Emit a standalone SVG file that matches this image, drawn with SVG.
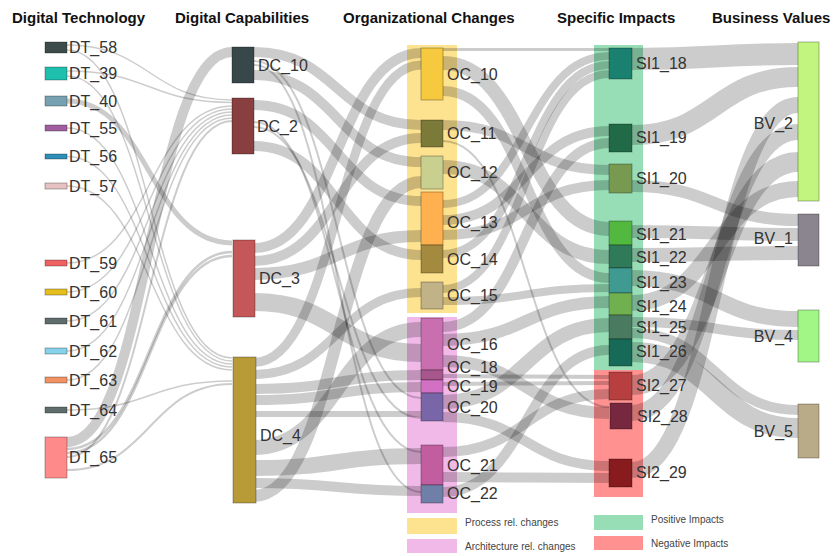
<svg xmlns="http://www.w3.org/2000/svg" width="835" height="556" viewBox="0 0 835 556">
<style>
text{font-family:"Liberation Sans",Arial,sans-serif;fill:#333}
.h{font-weight:bold;font-size:15px;fill:#111}
.l{font-size:16px}
.g{font-size:10px;fill:#444}
.lk path{fill:none;stroke:#000;stroke-opacity:0.2}
.n rect{stroke:#000;stroke-opacity:0.3;stroke-width:1}
</style>
<rect width="835" height="556" fill="#fff"/>
<g id="headers">
<text class="h" x="12" y="23">Digital Technology</text>
<text class="h" x="175" y="23">Digital Capabilities</text>
<text class="h" x="343" y="23">Organizational Changes</text>
<text class="h" x="557" y="23">Specific Impacts</text>
<text class="h" x="712" y="23">Business Values</text>
</g>
<g id="groups">
<rect x="407" y="45" width="50" height="268" fill="#fde290"/>
<rect x="407" y="317" width="50" height="196" fill="#f0b9e8"/>
<rect x="594" y="45" width="49" height="325" fill="#97deb6"/>
<rect x="594" y="370" width="49" height="127" fill="#ff9191"/>
</g>
<g id="links" class="lk">
<path d="M67 45C149.5 45 149.5 100 232 100" stroke-width="1.5"/>
<path d="M67 50C149.5 50 149.5 358 232 358" stroke-width="1.5"/>
<path d="M67 71C149.5 71 149.5 102.5 232 102.5" stroke-width="1.5"/>
<path d="M67 76C149.5 76 149.5 361 232 361" stroke-width="1.5"/>
<path d="M67 101C149.5 101 149.5 243 232 243" stroke-width="5"/>
<path d="M67 128C149.5 128 149.5 364 232 364" stroke-width="1.5"/>
<path d="M67 156.5C149.5 156.5 149.5 367 232 367" stroke-width="1.5"/>
<path d="M67 186C149.5 186 149.5 370 232 370" stroke-width="1.5"/>
<path d="M67 263C149.5 263 149.5 106 232 106" stroke-width="1.5"/>
<path d="M67 292C149.5 292 149.5 109 232 109" stroke-width="1.5"/>
<path d="M67 321C149.5 321 149.5 112 232 112" stroke-width="1.5"/>
<path d="M67 351C149.5 351 149.5 115 232 115" stroke-width="1.5"/>
<path d="M67 380C149.5 380 149.5 118 232 118" stroke-width="1.5"/>
<path d="M67 410C149.5 410 149.5 381 232 381" stroke-width="1.5"/>
<path d="M67 442C149.5 442 149.5 52 232 52" stroke-width="10"/>
<path d="M67 449C149.5 449 149.5 252 232 252" stroke-width="2.5"/>
<path d="M67 453C149.5 453 149.5 256 232 256" stroke-width="2.5"/>
<path d="M67 457C149.5 457 149.5 121 232 121" stroke-width="2"/>
<path d="M67 470C149.5 470 149.5 384 232 384" stroke-width="2"/>

<path d="M254 52C337.5 52 337.5 125 421 125" stroke-width="10"/>
<path d="M254 75C337.5 75 337.5 162 421 162" stroke-width="10"/>
<path d="M254 61C337.5 61 337.5 398 421 398" stroke-width="2"/>
<path d="M254 65C337.5 65 337.5 492 421 492" stroke-width="2"/>
<path d="M254 105C337.5 105 337.5 201 421 201" stroke-width="10"/>
<path d="M254 146C337.5 146 337.5 255 421 255" stroke-width="10"/>
<path d="M254 122C337.5 122 337.5 452 421 452" stroke-width="2"/>
<path d="M254 127C337.5 127 337.5 418 421 418" stroke-width="2"/>
<path d="M254 248C337.5 248 337.5 53 421 53" stroke-width="10"/>
<path d="M254 261C337.5 261 337.5 138 421 138" stroke-width="10"/>
<path d="M254 274C337.5 274 337.5 236 421 236" stroke-width="12"/>
<path d="M254 302C337.5 302 337.5 353 421 353" stroke-width="18"/>
<path d="M254 362.5C337.5 362.5 337.5 65 421 65" stroke-width="9"/>
<path d="M254 374.5C337.5 374.5 337.5 292.5 421 292.5" stroke-width="9"/>
<path d="M254 389C337.5 389 337.5 375 421 375" stroke-width="10"/>
<path d="M254 400C337.5 400 337.5 387 421 387" stroke-width="10"/>
<path d="M254 414C337.5 414 337.5 414 421 414" stroke-width="6"/>
<path d="M254 447.5C337.5 447.5 337.5 329.5 421 329.5" stroke-width="15"/>
<path d="M254 468C337.5 468 337.5 456 421 456" stroke-width="16"/>
<path d="M254 483C337.5 483 337.5 491 421 491" stroke-width="10"/>
<path d="M254 496C337.5 496 337.5 182 421 182" stroke-width="12"/>

<path d="M443 49.5C526 49.5 526 49.5 609 49.5" stroke-width="3"/>
<path d="M443 63C526 63 526 229 609 229" stroke-width="14"/>
<path d="M443 91C526 91 526 278 609 278" stroke-width="10"/>
<path d="M443 125C526 125 526 170 609 170" stroke-width="10"/>
<path d="M443 141C526 141 526 407 609 407" stroke-width="2"/>
<path d="M443 167C526 167 526 257 609 257" stroke-width="14"/>
<path d="M443 204C526 204 526 56 609 56" stroke-width="8"/>
<path d="M443 254C526 254 526 65 609 65" stroke-width="8"/>
<path d="M443 289C526 289 526 74 609 74" stroke-width="8"/>
<path d="M443 220C526 220 526 131 609 131" stroke-width="10"/>
<path d="M443 327C526 327 526 143 609 143" stroke-width="10"/>
<path d="M443 235C526 235 526 185 609 185" stroke-width="10"/>
<path d="M443 301C526 301 526 288 609 288" stroke-width="8"/>
<path d="M443 340C526 340 526 302 609 302" stroke-width="12"/>
<path d="M443 402C526 402 526 325 609 325" stroke-width="14"/>
<path d="M443 492C526 492 526 350 609 350" stroke-width="10"/>
<path d="M443 452C526 452 526 394 609 394" stroke-width="10"/>
<path d="M443 376C526 376 526 377 609 377" stroke-width="4"/>
<path d="M443 384C526 384 526 383 609 383" stroke-width="4"/>
<path d="M443 361C526 361 526 413 609 413" stroke-width="12"/>
<path d="M443 417C526 417 526 466 609 466" stroke-width="10"/>
<path d="M443 477C526 477 526 478 609 478" stroke-width="10"/>

<path d="M632 59C715 59 715 54 798 54" stroke-width="22"/>
<path d="M632 135C715 135 715 77 798 77" stroke-width="20"/>
<path d="M632 186C715 186 715 220 798 220" stroke-width="12"/>
<path d="M632 231.5C715 231.5 715 234.5 798 234.5" stroke-width="13"/>
<path d="M632 255C715 255 715 253 798 253" stroke-width="14"/>
<path d="M632 278C715 278 715 319 798 319" stroke-width="16"/>
<path d="M632 303C715 303 715 189 798 189" stroke-width="16"/>
<path d="M632 322C715 322 715 335 798 335" stroke-width="10"/>
<path d="M632 333C715 333 715 410 798 410" stroke-width="10"/>
<path d="M632 352C715 352 715 428 798 428" stroke-width="20"/>
<path d="M632 385C715 385 715 162 798 162" stroke-width="20"/>
<path d="M632 413C715 413 715 132 798 132" stroke-width="16"/>
<path d="M632 470C715 470 715 105 798 105" stroke-width="16"/>
</g>
<g id="nodes" class="n">
<g id="DT_58"><rect x="45" y="42" width="22" height="11" fill="#3e4b4b"/><text class="l" x="69" y="53">DT_58</text></g>
<g id="DT_39"><rect x="45" y="67" width="22" height="13" fill="#1fbfae"/><text class="l" x="69" y="79">DT_39</text></g>
<g id="DT_40"><rect x="45" y="96" width="22" height="10" fill="#77a0b0"/><text class="l" x="69" y="107">DT_40</text></g>
<g id="DT_55"><rect x="45" y="125" width="22" height="6" fill="#a05ea0"/><text class="l" x="69" y="134">DT_55</text></g>
<g id="DT_56"><rect x="45" y="154" width="22" height="5" fill="#2e8fb8"/><text class="l" x="69" y="162">DT_56</text></g>
<g id="DT_57"><rect x="45" y="183" width="22" height="6" fill="#e6c2c2"/><text class="l" x="69" y="192">DT_57</text></g>
<g id="DT_59"><rect x="45" y="260" width="22" height="6" fill="#f06262"/><text class="l" x="69" y="269">DT_59</text></g>
<g id="DT_60"><rect x="45" y="289" width="22" height="6" fill="#e6bf1e"/><text class="l" x="69" y="298">DT_60</text></g>
<g id="DT_61"><rect x="45" y="318" width="22" height="6" fill="#5e6c6c"/><text class="l" x="69" y="327">DT_61</text></g>
<g id="DT_62"><rect x="45" y="348" width="22" height="6" fill="#86d2ea"/><text class="l" x="69" y="357">DT_62</text></g>
<g id="DT_63"><rect x="45" y="377" width="22" height="6" fill="#f29264"/><text class="l" x="69" y="386">DT_63</text></g>
<g id="DT_64"><rect x="45" y="407" width="22" height="6" fill="#5e6c6c"/><text class="l" x="69" y="416">DT_64</text></g>
<g id="DT_65"><rect x="45" y="437" width="22" height="41" fill="#ff8a8a"/><text class="l" x="69" y="463">DT_65</text></g>

<g id="DC_10"><rect x="232" y="47" width="22" height="36" fill="#37474a"/><text class="l" x="258" y="71">DC_10</text></g>
<g id="DC_2"><rect x="232" y="98" width="22" height="56" fill="#893e3f"/><text class="l" x="257" y="132">DC_2</text></g>
<g id="DC_3"><rect x="233" y="240" width="22" height="77" fill="#c45757"/><text class="l" x="259" y="284">DC_3</text></g>
<g id="DC_4"><rect x="233" y="357" width="23" height="146" fill="#b89a37"/><text class="l" x="260" y="441">DC_4</text></g>

<g id="OC_10"><rect x="421" y="48" width="22" height="52" fill="#f6c93e"/><text class="l" x="447" y="80">OC_10</text></g>
<g id="OC_11"><rect x="421" y="120" width="22" height="27" fill="#7b7a38"/><text class="l" x="447" y="139">OC_11</text></g>
<g id="OC_12"><rect x="421" y="156" width="22" height="33" fill="#c9d08f"/><text class="l" x="447" y="178">OC_12</text></g>
<g id="OC_13"><rect x="421" y="192" width="22" height="53" fill="#ffb14f"/><text class="l" x="447" y="228">OC_13</text></g>
<g id="OC_14"><rect x="421" y="245" width="22" height="28" fill="#a48a3e"/><text class="l" x="447" y="265">OC_14</text></g>
<g id="OC_15"><rect x="421" y="282" width="22" height="27" fill="#c2b287"/><text class="l" x="447" y="301">OC_15</text></g>
<g id="OC_16"><rect x="421" y="318" width="22" height="52" fill="#c96fb0"/><text class="l" x="447" y="350">OC_16</text></g>
<g id="OC_18"><rect x="421" y="370" width="22" height="10" fill="#a8568e"/><text class="l" x="447" y="373">OC_18</text></g>
<g id="OC_19"><rect x="421" y="380" width="22" height="13" fill="#d270c4"/><text class="l" x="447" y="392">OC_19</text></g>
<g id="OC_20"><rect x="421" y="393" width="22" height="28" fill="#7866a8"/><text class="l" x="447" y="413">OC_20</text></g>
<g id="OC_21"><rect x="421" y="445" width="22" height="40" fill="#c25ea0"/><text class="l" x="447" y="471">OC_21</text></g>
<g id="OC_22"><rect x="421" y="485" width="22" height="18" fill="#6f7fa8"/><text class="l" x="447" y="499">OC_22</text></g>

<g id="SI1_18"><rect x="609" y="48" width="23" height="31" fill="#1a8070"/><text class="l" x="636" y="69">SI1_18</text></g>
<g id="SI1_19"><rect x="609" y="124" width="23" height="28" fill="#216a47"/><text class="l" x="636" y="143">SI1_19</text></g>
<g id="SI1_20"><rect x="609" y="164" width="23" height="29" fill="#789a50"/><text class="l" x="636" y="184">SI1_20</text></g>
<g id="SI1_21"><rect x="609" y="221" width="23" height="24" fill="#52b83f"/><text class="l" x="636" y="240">SI1_21</text></g>
<g id="SI1_22"><rect x="609" y="245" width="23" height="23" fill="#2f7a59"/><text class="l" x="636" y="263">SI1_22</text></g>
<g id="SI1_23"><rect x="609" y="268" width="23" height="25" fill="#3f9a92"/><text class="l" x="636" y="288">SI1_23</text></g>
<g id="SI1_24"><rect x="609" y="293" width="23" height="22" fill="#70b04f"/><text class="l" x="636" y="312">SI1_24</text></g>
<g id="SI1_25"><rect x="609" y="315" width="23" height="24" fill="#4a7a60"/><text class="l" x="636" y="333">SI1_25</text></g>
<g id="SI1_26"><rect x="609" y="339" width="23" height="27" fill="#176958"/><text class="l" x="636" y="357">SI1_26</text></g>
<g id="SI2_27"><rect x="609" y="372" width="23" height="28" fill="#b83f3f"/><text class="l" x="636" y="391">SI2_27</text></g>
<g id="SI2_28"><rect x="610" y="403" width="22" height="26" fill="#77283f"/><text class="l" x="637" y="422">SI2_28</text></g>
<g id="SI2_29"><rect x="609" y="459" width="23" height="28" fill="#871b1e"/><text class="l" x="636" y="478">SI2_29</text></g>

<g id="BV_2"><rect x="798" y="42" width="21" height="159" fill="#c2f57f"/><text class="l" x="793" y="129" text-anchor="end">BV_2</text></g>
<g id="BV_1"><rect x="798" y="214" width="21" height="52" fill="#8b8590"/><text class="l" x="793" y="244" text-anchor="end">BV_1</text></g>
<g id="BV_4"><rect x="798" y="310" width="21" height="52" fill="#a2f685"/><text class="l" x="793" y="342" text-anchor="end">BV_4</text></g>
<g id="BV_5"><rect x="798" y="404" width="21" height="54" fill="#b9aa88"/><text class="l" x="793" y="437" text-anchor="end">BV_5</text></g>
</g>
<g id="legend">
<rect x="407" y="518" width="50" height="16" fill="#fde290"/>
<text class="g" x="465" y="525.5">Process rel. changes</text>
<rect x="407" y="539" width="50" height="14" fill="#f0b9e8"/>
<text class="g" x="465" y="549.5">Architecture rel. changes</text>
<rect x="594" y="515" width="49" height="15" fill="#97deb6"/>
<text class="g" x="651" y="522.5">Positive Impacts</text>
<rect x="594" y="536" width="49" height="14" fill="#ff9191"/>
<text class="g" x="651" y="547">Negative Impacts</text>
</g>
</svg>
